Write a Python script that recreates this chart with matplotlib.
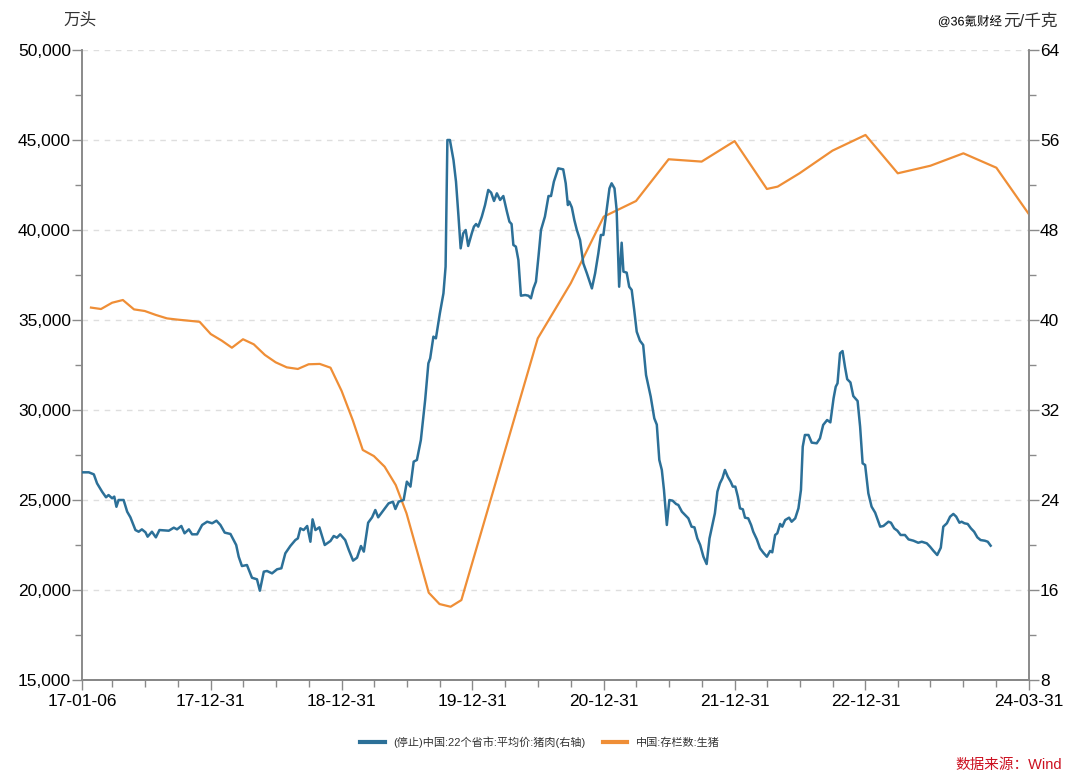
import datetime as dt
import matplotlib
matplotlib.use("Agg")
import matplotlib.pyplot as plt
import matplotlib.dates as mdates
import matplotlib.ticker as mticker
import matplotlib.patheffects as pe
import pandas as pd

plt.rcParams['font.family'] = ['Liberation Sans', 'Noto Sans CJK SC']

# 中国:存栏数:生猪 (万头, 左轴)
stock_dates = [
    '2017-01-31', '2017-02-28', '2017-03-31', '2017-04-30', '2017-05-31', '2017-06-30',
    '2017-07-31', '2017-08-31', '2017-09-30', '2017-10-31', '2017-11-30', '2017-12-31',
    '2018-01-31', '2018-02-28', '2018-03-31', '2018-04-30', '2018-05-31', '2018-06-30',
    '2018-07-31', '2018-08-31', '2018-09-30', '2018-10-31', '2018-11-30', '2018-12-31',
    '2019-01-31', '2019-02-28', '2019-03-31', '2019-04-30', '2019-05-31', '2019-06-30',
    '2019-07-31', '2019-08-31', '2019-09-30', '2019-10-31', '2019-11-30',
    '2020-06-30', '2020-09-30', '2020-12-31', '2021-03-31', '2021-06-30', '2021-09-30',
    '2021-12-31', '2022-03-31', '2022-04-30', '2022-06-30', '2022-09-30', '2022-12-31',
    '2023-03-31', '2023-06-30', '2023-09-30', '2023-12-31', '2024-03-31',
]
stock_values = [
    35690, 35610, 35960, 36110, 35590, 35500, 35280, 35090, 35020, 34960, 34900, 34220,
    33850, 33460, 33930, 33650, 33060, 32650, 32370, 32280, 32540, 32560, 32350, 31060,
    29440, 27780, 27440, 26850, 25830, 24260, 22060, 19850, 19220, 19070, 19440,
    33980, 37040, 40740, 41610, 43930, 43800, 44940, 42280, 42410, 43150, 44410, 45280,
    43150, 43570, 44260, 43460, 40870,
]

# (停止)中国:22个省市:平均价:猪肉 (元/千克, 右轴), days after 2017-01-06
price_start = dt.datetime(2017, 1, 6)
price_days = [
    0, 19, 33, 42, 56, 67, 74, 84, 90, 96, 102, 116, 126, 135, 149, 158, 167, 177, 183, 195,
    206, 216, 242, 256, 265, 277, 286, 298, 307, 321, 335, 349, 363, 375, 386, 398, 414, 430,
    437, 446, 460, 474, 488, 496, 507, 516, 530, 544, 556, 567, 581, 595, 602, 609, 618, 628,
    637, 643, 651, 662, 667, 677, 693, 702, 711, 720, 734, 744, 756, 767, 778, 786, 798, 809,
    818, 826, 841, 855, 867, 874, 883, 897, 906, 916, 925, 934, 945, 957, 966, 971, 980, 987,
    998, 1008, 1014, 1019, 1026, 1036, 1043, 1050, 1056, 1063, 1070, 1077, 1087, 1093, 1099,
    1105, 1115, 1124, 1133, 1141, 1149, 1157, 1166, 1175, 1185, 1192, 1198, 1203, 1210, 1217,
    1224, 1236, 1245, 1252, 1259, 1266, 1273, 1280, 1291, 1301, 1308, 1316, 1328, 1342, 1349,
    1355, 1359, 1366, 1373, 1380, 1389, 1398, 1408, 1422, 1431, 1440, 1447, 1454, 1463, 1471,
    1477, 1485, 1491, 1498, 1505, 1510, 1519, 1526, 1533, 1540, 1547, 1556, 1565, 1573, 1586,
    1596, 1603, 1610, 1617, 1623, 1631, 1638, 1647, 1657, 1663, 1673, 1682, 1691, 1700, 1708,
    1716, 1724, 1733, 1742, 1750, 1759, 1765, 1772, 1779, 1786, 1793, 1801, 1809, 1815, 1822,
    1829, 1835, 1843, 1849, 1858, 1866, 1872, 1882, 1891, 1900, 1910, 1919, 1925, 1933, 1939,
    1947, 1953, 1961, 1972, 1979, 1989, 1998, 2005, 2010, 2016, 2026, 2035, 2049, 2058, 2067,
    2078, 2087, 2096, 2102, 2107, 2114, 2121, 2128, 2134, 2143, 2151, 2163, 2170, 2177, 2184,
    2193, 2202, 2212, 2226, 2235, 2249, 2256, 2265, 2274, 2283, 2295, 2305, 2319, 2332, 2342,
    2356, 2365, 2374, 2385, 2395, 2402, 2412, 2421, 2430, 2438, 2447, 2453, 2461, 2470, 2479,
    2488, 2497, 2506, 2518, 2526, 2534,
]
price_values = [
    26.46, 26.46, 26.28, 25.48, 24.74, 24.24, 24.44, 24.15, 24.30, 23.40, 24.0, 24.0, 22.96,
    22.46, 21.33, 21.18, 21.39, 21.13, 20.74, 21.18, 20.68, 21.33, 21.27, 21.54, 21.39, 21.69,
    21.04, 21.39, 20.95, 20.95, 21.78, 22.07, 21.93, 22.16, 21.78, 21.10, 20.98, 20.0, 18.96,
    18.13, 18.22, 17.09, 16.95, 15.94, 17.63, 17.69, 17.48, 17.84, 17.93, 19.26, 19.91, 20.44,
    20.59, 21.48, 21.33, 21.69, 20.29, 22.28, 21.33, 21.57, 21.04, 20.0, 20.36, 20.80, 20.65,
    20.95, 20.44, 19.56, 18.61, 18.87, 19.91, 19.41, 21.98, 22.46, 23.11, 22.46, 23.11, 23.70,
    23.85, 23.20, 23.85, 24.0, 25.63, 25.19, 27.41, 27.56, 29.33, 32.89, 36.15, 36.59, 38.52,
    38.37, 40.59, 42.37, 44.74, 56.0, 56.0, 54.22, 52.30, 49.19, 46.37, 47.70, 48.0, 46.58,
    47.70, 48.30, 48.53, 48.30, 49.19, 50.22, 51.56, 51.32, 50.58, 51.26, 50.67, 51.02, 49.63,
    48.74, 48.53, 46.67, 46.52, 45.33, 42.16, 42.22, 42.16, 41.93, 42.81, 43.41, 45.63, 48.0,
    49.19, 51.02, 51.02, 52.30, 53.48, 53.39, 52.15, 50.22, 50.52, 50.01, 48.89, 48.0, 47.11,
    45.04, 44.15, 42.81, 44.15, 45.93, 47.56, 47.56, 49.78, 51.70, 52.15, 51.70, 49.78, 42.96,
    46.87, 44.30, 44.21, 42.96, 42.67, 40.89, 38.96, 38.16, 37.78, 35.11, 33.19, 31.26, 30.70,
    27.56, 26.67, 24.89, 21.78, 24.0, 23.94, 23.64, 23.56, 22.96, 22.67, 22.37, 21.63, 21.57,
    20.59, 20.0, 18.96, 18.31, 20.59, 21.93, 22.82, 24.74, 25.48, 25.93, 26.67, 26.07, 25.63,
    25.19, 25.19, 24.30, 23.26, 23.17, 22.43, 22.37, 21.78, 21.18, 20.50, 19.70, 19.32, 18.96,
    19.47, 19.35, 20.89, 21.04, 21.87, 21.63, 22.22, 22.43, 22.07, 22.37, 23.26, 24.89, 28.74,
    29.78, 29.78, 29.10, 29.04, 29.48, 30.67, 31.11, 30.90, 33.04, 34.07, 34.37, 37.04, 37.24,
    35.80, 34.74, 34.45, 33.24, 32.80, 30.52, 27.26, 27.11, 24.59, 23.41, 22.87, 21.63, 21.69,
    22.07, 21.98, 21.48, 21.27, 20.89, 20.89, 20.50, 20.38, 20.20, 20.29, 20.15, 19.85, 19.50,
    19.11, 19.76, 21.63, 21.93, 22.52, 22.76, 22.52, 21.98, 22.07, 21.93, 21.87, 21.48, 21.18,
    20.68, 20.44, 20.38, 20.29, 19.94,
]

major_dates = ['2017-01-06', '2017-12-31', '2018-12-31', '2019-12-31',
               '2020-12-31', '2021-12-31', '2022-12-31', '2024-03-31']

blue = '#2c7098'
orange = '#ef8e36'
axis_gray = '#8a8a8a'

stock_x = pd.to_datetime(stock_dates)
price_x = [price_start + dt.timedelta(days=d) for d in price_days]

fig = plt.figure(figsize=(10.8, 7.79), dpi=100)
ax = fig.add_axes([82 / 1080, 1 - 680 / 779, (1029 - 82) / 1080, 630 / 779])
ax2 = ax.twinx()

ax.plot(stock_x, stock_values, color=orange, lw=1.6, zorder=3)
ax2.plot(price_x, price_values, color=blue, lw=1.8, zorder=3)

# x axis
major_x = pd.to_datetime(major_dates)
ax.set_xlim(major_x[0], major_x[-1])
ax.xaxis.set_major_locator(mticker.FixedLocator(mdates.date2num(major_x)))
ax.xaxis.set_major_formatter(mticker.FixedFormatter([d.strftime('%y-%m-%d') for d in major_x]))
quarters = [q for q in pd.date_range('2017-03-31', '2023-12-31', freq='QE') if q not in set(major_x)]
ax.xaxis.set_minor_locator(mticker.FixedLocator(mdates.date2num(quarters)))

# left axis
ax.set_ylim(15000, 50000)
ax.yaxis.set_major_locator(mticker.MultipleLocator(5000))
ax.yaxis.set_minor_locator(mticker.MultipleLocator(2500))
ax.yaxis.set_major_formatter(mticker.FuncFormatter(lambda v, p: f'{v:,.0f}'))

# right axis
ax2.set_ylim(8, 64)
ax2.yaxis.set_major_locator(mticker.MultipleLocator(8))
ax2.yaxis.set_minor_locator(mticker.MultipleLocator(4))

ax.grid(axis='y', which='major', color='#dedede', linestyle=(0, (4, 4)), lw=1)
ax.set_axisbelow(True)

for a in (ax, ax2):
    a.spines['top'].set_visible(False)
    for s in ('left', 'right', 'bottom'):
        a.spines[s].set_color(axis_gray)
        a.spines[s].set_linewidth(1.2)
    a.tick_params(which='major', length=7, width=1, color=axis_gray, labelsize=12.5,
                  labelcolor='black', pad=1)
    a.tick_params(which='minor', length=5, width=1, color=axis_gray)
ax.spines['bottom'].set_color('#666666')
ax.tick_params(axis='x', which='major', pad=3)

fig.text(80 / 1080, 1 - 20 / 779, '万头', ha='center', va='center', fontsize=12, color='#333333')
fig.text(1058 / 1080, 1 - 21 / 779, '元/千克', ha='right', va='center', fontsize=12, color='#333333')
fig.text(1002 / 1080, 1 - 22 / 779, '@36氪财经', ha='right', va='center', fontsize=9, color='black',
         path_effects=[pe.withStroke(linewidth=2, foreground='white')])

handles = [plt.Line2D([], [], color=blue, lw=3), plt.Line2D([], [], color=orange, lw=3)]
fig.legend(handles, ['(停止)中国:22个省市:平均价:猪肉(右轴)', '中国:存栏数:生猪'],
           loc='center', bbox_to_anchor=(540 / 1080, 1 - 742 / 779), ncol=2, frameon=False,
           fontsize=8, handlelength=2.2, columnspacing=1.5, labelcolor='#333333')
fig.text(1062 / 1080, 1 - 765 / 779, '数据来源：Wind', ha='right', va='center', fontsize=10.5,
         color='#cc1020')

fig.savefig('out.png', dpi=100)
